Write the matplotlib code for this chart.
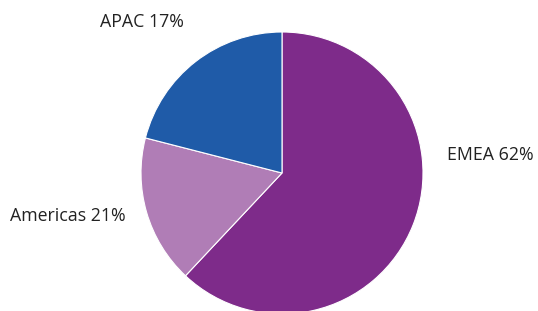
import matplotlib
matplotlib.use("Agg")
import matplotlib.pyplot as plt

# slices in drawing order, clockwise from 12 o'clock
regions = ["EMEA", "APAC", "Americas"]
shares = [62, 17, 21]
colors = ["#7E2B8A", "#B07DB6", "#1F5BA8"]

# label text as shown on the chart
labels = {"EMEA": "EMEA 62%", "Americas": "Americas 21%", "APAC": "APAC 17%"}

plt.rcParams["font.family"] = ["Open Sans", "DejaVu Sans"]

fig = plt.figure(figsize=(5.38, 3.11), dpi=100)
ax = fig.add_axes([0, 0, 1, 1])

ax.pie(shares, colors=colors, startangle=90, counterclock=False,
       center=(282, 138), radius=141,
       wedgeprops=dict(edgecolor="white", linewidth=0.8))

ax.set_xlim(0, 538)
ax.set_ylim(0, 311)
ax.set_aspect("equal")
ax.axis("off")

txt = dict(fontsize=12.8, color="#222222", va="center")
ax.text(100, 289, labels["APAC"], ha="left", **txt)
ax.text(10, 95, labels["Americas"], ha="left", **txt)
ax.text(447, 156, labels["EMEA"], ha="left", **txt)

fig.savefig("out.png", dpi=100)
